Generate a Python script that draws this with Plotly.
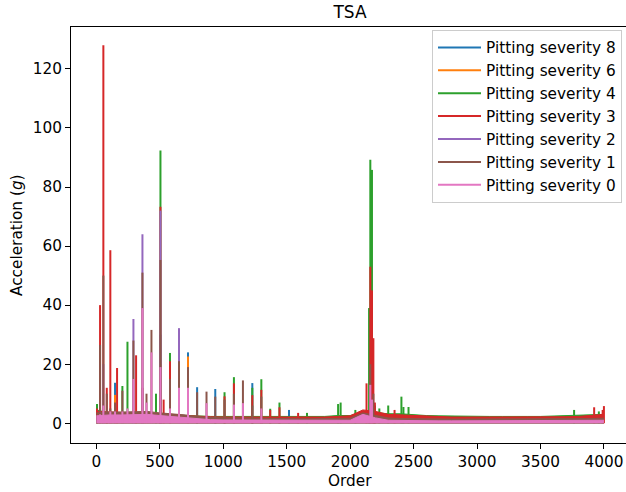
import plotly.graph_objects as go

# ---------------- data ----------------
series_names = ["Pitting severity 8", "Pitting severity 6", "Pitting severity 4",
                "Pitting severity 3", "Pitting severity 2", "Pitting severity 1",
                "Pitting severity 0"]
series_colors = ["#1f77b4", "#ff7f0e", "#2ca02c", "#d62728", "#9467bd", "#8c564b", "#e377c2"]

# noise-floor envelope, sampled every 100 orders (0..4000)
floor_orders = list(range(0, 4001, 100))
floor_s8 = [2, 2, 2, 2, 2, 1.8, 1.6, 1.4, 1.2, 1.1, 1, 1, 1, 0.9, 0.9, 0.8, 0.8, 0.8, 0.8, 0.8, 0.8,
            2, 1.5, 0.8, 0.7, 0.7, 0.6, 0.6, 0.6, 0.6, 0.6, 0.6, 0.6, 0.6, 0.6, 0.6, 0.6, 0.6, 0.6, 0.6, 0.7]
floor_s6 = [2, 2, 2, 2, 2, 1.8, 1.6, 1.4, 1.2, 1.1, 1, 1, 1, 0.9, 0.9, 0.8, 0.8, 0.8, 0.8, 0.8, 0.8,
            2, 1.5, 0.8, 0.7, 0.7, 0.6, 0.6, 0.6, 0.6, 0.6, 0.6, 0.6, 0.6, 0.6, 0.6, 0.6, 0.6, 0.6, 0.6, 0.7]
floor_s4 = [4.5, 3.5, 3.5, 3.2, 3.2, 3, 2.8, 2.6, 2.4, 2.3, 2.3, 2.3, 2.2, 2.2, 2.2, 2.1, 2.2, 2.2, 2.3, 2.6, 2.6,
            4, 3.6, 3.2, 3.2, 2.8, 2.6, 2.5, 2.4, 2.4, 2.4, 2.3, 2.3, 2.4, 2.3, 2.3, 2.4, 2.5, 2.6, 2.8, 3]
floor_s3 = [4, 3.8, 3.6, 3.5, 3.5, 3.3, 3, 2.6, 2.3, 2.2, 2.1, 2.1, 2.1, 2, 2, 2, 2, 2, 2.1, 2.3, 2.5,
            4.5, 4, 3, 2.8, 2.5, 2.3, 2.2, 2.1, 2.1, 2.1, 2, 2, 2.1, 2, 2, 2.1, 2.2, 2.3, 2.6, 3]
floor_s2 = [2, 2, 2, 2, 2, 1.8, 1.6, 1.4, 1.2, 1.1, 1, 1, 1, 0.9, 0.9, 0.8, 0.8, 0.8, 0.8, 0.8, 0.8,
            2, 1.5, 0.8, 0.7, 0.7, 0.6, 0.6, 0.6, 0.6, 0.6, 0.6, 0.6, 0.6, 0.6, 0.6, 0.6, 0.6, 0.6, 0.6, 0.7]
floor_s1 = [3.5, 3.8, 3.8, 4, 4, 3.5, 3.2, 2.8, 2.2, 1.9, 1.8, 1.8, 1.7, 1.7, 1.6, 1.5, 1.5, 1.5, 1.5, 1.6, 1.7,
            3.5, 2.6, 1.8, 1.6, 1.5, 1.4, 1.4, 1.4, 1.4, 1.4, 1.4, 1.4, 1.4, 1.4, 1.4, 1.4, 1.4, 1.5, 1.6, 1.7]
floor_s0 = [2.5, 2.8, 2.8, 3, 3, 2.6, 2.2, 1.8, 1.4, 1.2, 1.1, 1.1, 1, 1, 1, 0.9, 0.9, 0.9, 0.9, 0.9, 1,
            3, 1.8, 1, 0.9, 0.8, 0.8, 0.8, 0.8, 0.8, 0.8, 0.8, 0.8, 0.8, 0.8, 0.8, 0.8, 0.8, 0.8, 0.9, 1]

# spectral peaks: orders and amplitudes (g)
peak_orders_s8 = [147, 505, 722, 794, 937, 1229, 1518]
peak_amps_s8 = [13.7, 30, 24, 12.2, 11.6, 13.6, 4.5]
peak_orders_s6 = [147, 505, 722]
peak_amps_s6 = [9.6, 20, 22.6]
peak_orders_s4 = [5, 29, 205, 245, 470, 505, 580, 1010, 1084, 1229, 1300, 1370, 1443, 1660, 1905,
                  1925, 2041, 2149, 2159, 2172, 2195, 2230, 2300, 2404, 2420, 2460, 3765, 3960]
peak_amps_s4 = [6.5, 5, 12.6, 27.6, 10, 92.4, 23.8, 10.5, 15.6, 12, 14.9, 4.9, 7, 3.5, 6.5,
                7, 4.5, 39, 89.2, 85.8, 6, 5, 6, 9, 5.5, 5.5, 4.5, 4]
peak_orders_s3 = [5, 29, 55, 82, 110, 163, 313, 363, 505, 530, 580, 1010, 1084, 1229, 1300, 1370,
                  1443, 1590, 2129, 2159, 2172, 2183, 2195, 2350, 3923, 3990, 4000]
peak_amps_s3 = [5, 40, 128, 12, 58.6, 18.7, 23, 12, 73.3, 8, 21, 9.1, 13.5, 9.5, 11.3, 4.5,
                5.4, 3.5, 13.5, 53, 45, 28.8, 7, 4.5, 5.4, 4.5, 5.8]
peak_orders_s2 = [55, 292, 363, 505, 651]
peak_amps_s2 = [20, 35.3, 64, 72, 32.2]
peak_orders_s1 = [29, 55, 82, 110, 147, 205, 292, 363, 395, 434, 505, 580, 651, 722, 794, 868,
                  937, 1010, 1084, 1155, 1229, 1300, 2159, 2183]
peak_amps_s1 = [26.5, 50, 10, 5, 7, 11, 28, 51, 10, 31.6, 55.3, 15, 21, 19, 10.5, 10.7,
                9, 8, 10, 14.5, 6, 9, 20, 10]
peak_orders_s0 = [29, 55, 110, 147, 205, 245, 292, 363, 395, 434, 505, 580, 651, 722, 868,
                  1084, 1155, 1300, 2159, 2172]
peak_amps_s0 = [3, 6, 4, 4, 4, 5, 15, 39, 7, 24, 19, 5, 12, 12, 6.8,
                6.3, 6.8, 5, 13, 8]

floors = [floor_s8, floor_s6, floor_s4, floor_s3, floor_s2, floor_s1, floor_s0]
peak_orders = [peak_orders_s8, peak_orders_s6, peak_orders_s4, peak_orders_s3,
               peak_orders_s2, peak_orders_s1, peak_orders_s0]
peak_amps = [peak_amps_s8, peak_amps_s6, peak_amps_s4, peak_amps_s3,
             peak_amps_s2, peak_amps_s1, peak_amps_s0]

x_ticks = [0, 500, 1000, 1500, 2000, 2500, 3000, 3500, 4000]
y_ticks = [0, 20, 40, 60, 80, 100, 120]

# ---------------- figure ----------------
FONT = "DejaVu Sans"
FS = 15.3
fig = go.Figure()

for name, color, fl, po, pa in zip(series_names, series_colors, floors, peak_orders, peak_amps):
    fig.add_trace(go.Scatter(
        x=floor_orders, y=fl, mode="lines", fill="tozeroy",
        line=dict(color=color, width=1), fillcolor=color,
        legendgroup=name, showlegend=False, hoverinfo="skip"))
    sx, sy = [], []
    for o, a in zip(po, pa):
        sx += [o, o, None]
        sy += [0, a, None]
    fig.add_trace(go.Scatter(
        x=sx, y=sy, mode="lines", name=name, legendgroup=name,
        line=dict(color=color, width=2)))

fig.update_layout(
    width=626, height=492,
    margin=dict(l=71, r=0, t=27, b=49),
    paper_bgcolor="white", plot_bgcolor="white",
    font=dict(family=FONT, size=FS, color="black"),
    title=dict(text="TSA", x=350 / 626, xref="container", xanchor="center",
               y=1 - 12 / 492, yref="container", yanchor="middle",
               font=dict(family=FONT, size=17, color="black")),
    showlegend=True,
    legend=dict(x=(622 - 71) / 555, xanchor="right", y=(443 - 30) / 416, yanchor="top",
                bgcolor="rgba(255,255,255,0.8)", bordercolor="#cccccc", borderwidth=1,
                font=dict(family=FONT, size=FS, color="black"),
                traceorder="grouped", tracegroupgap=0, itemwidth=43),
)

fig.update_xaxes(range=[-200, 4174], tickvals=x_ticks, ticktext=[str(v) for v in x_ticks],
                 showgrid=False, zeroline=False, showline=True, linecolor="black",
                 linewidth=1, mirror=True, ticks="outside", ticklen=5, tickcolor="black",
                 tickfont=dict(family=FONT, size=FS, color="black"))
fig.update_yaxes(range=[-6.7, 134.2], tickvals=y_ticks, ticktext=[str(v) for v in y_ticks],
                 showgrid=False, zeroline=False, showline=True, linecolor="black",
                 linewidth=1, mirror=False, ticks="outside", ticklen=5, tickcolor="black",
                 tickfont=dict(family=FONT, size=FS, color="black"))

fig.add_annotation(text="Order", x=(350 - 71) / 555, y=-(481 - 443) / 416,
                   xref="paper", yref="paper",
                   showarrow=False, xanchor="center", yanchor="middle",
                   font=dict(family=FONT, size=FS, color="black"))
fig.add_annotation(text="Acceleration (<i>g</i>)", textangle=-90, xref="paper", yref="paper",
                   x=(17 - 71) / 555, y=(443 - 235) / 416, showarrow=False,
                   xanchor="center", yanchor="middle",
                   font=dict(family=FONT, size=FS, color="black"))

fig.write_html("out.html")
